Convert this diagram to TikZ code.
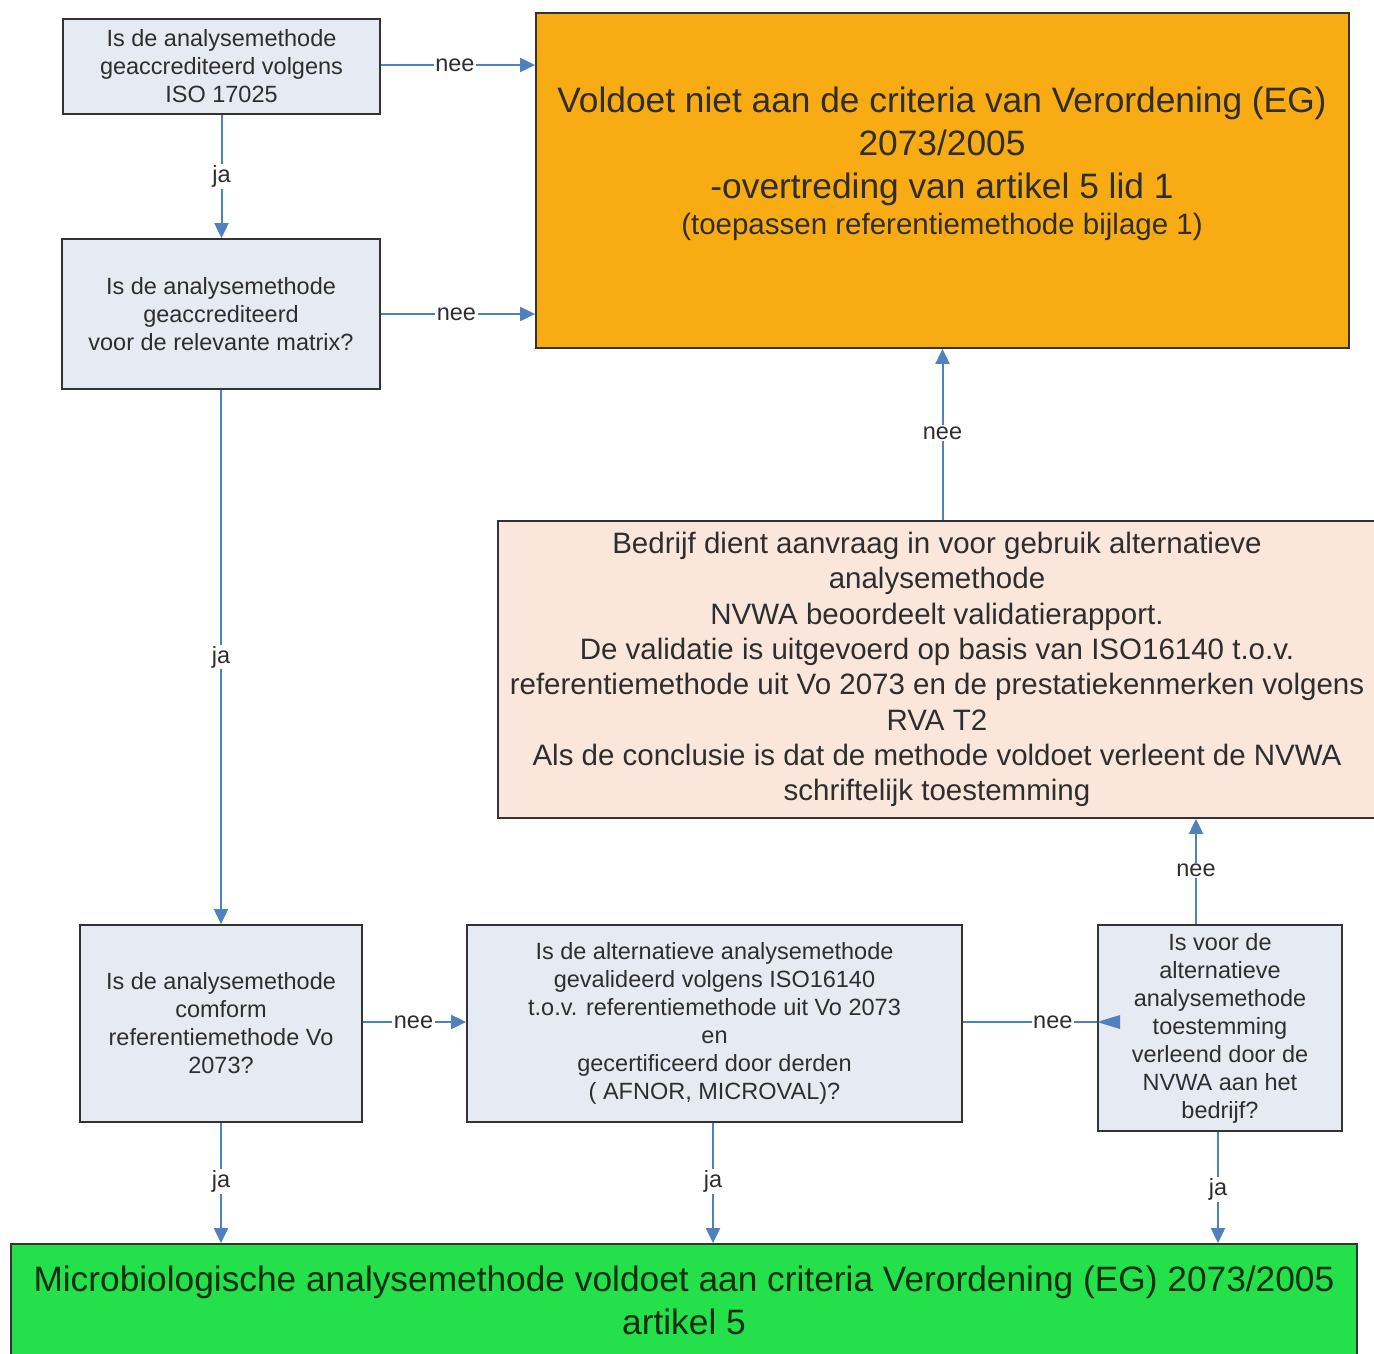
\documentclass[tikz,border=0pt]{standalone}
\usepackage{fontspec}
\setmainfont{Liberation Sans}
\usetikzlibrary{arrows.meta}
\definecolor{qfill}{HTML}{E5EAF3}
\definecolor{boxline}{HTML}{333333}
\definecolor{orangefill}{HTML}{F9AB14}
\definecolor{peachfill}{HTML}{FBE6DC}
\definecolor{greenfill}{HTML}{24E04A}
\definecolor{arrowblue}{HTML}{4F81BD}
\definecolor{txt}{HTML}{2E2E2E}
\definecolor{greentxt}{HTML}{0E2E12}
\tikzset{
  qbox/.style={draw=boxline, line width=1.8pt, fill=qfill, inner sep=0pt, align=center,
    text=txt, font=\fontsize{23.5}{28}\selectfont},
  bigbox/.style={draw=boxline, line width=1.8pt, inner sep=0pt, align=center},
  conn/.style={draw=arrowblue, line width=2pt, -{Triangle[length=15pt,width=14pt]}},
  plainconn/.style={draw=arrowblue, line width=2pt},
  lbl/.style={fill=white, inner sep=1.5pt, text=txt, font=\fontsize{23.5}{28}\selectfont}
}
\begin{document}
\begin{tikzpicture}[x=1pt,y=-1pt]
\useasboundingbox (0,0) rectangle (1374,1353);
\fill[white] (0,0) rectangle (1374,1353);

% boxes
\node[qbox, minimum width=317pt, minimum height=95pt] (A) at (221.5,66.5)
  {Is de analysemethode\\geaccrediteerd volgens\\ISO 17025};
\node[qbox, minimum width=318pt, minimum height=150pt] (B) at (221,314)
  {Is de analysemethode\\geaccrediteerd\\voor de relevante matrix?};
\node[bigbox, fill=orangefill, minimum width=813pt, minimum height=335pt] (O) at (942.5,180.5) {};
\node[align=center, text=txt, inner sep=0pt, font=\fontsize{35.3}{43}\selectfont] (Ot) at (942,146)
  {Voldoet niet aan de criteria van Verordening (EG)\\2073/2005\\-overtreding van artikel 5 lid 1};
\node[align=center, text=txt, inner sep=0pt, font=\fontsize{29.5}{35}\selectfont] (Os) at (942,227)
  {(toepassen referentiemethode bijlage 1)};
\node[bigbox, fill=peachfill, minimum width=878pt, minimum height=297pt, text=txt,
  font=\fontsize{29.5}{35.3}\selectfont] (P) at (937,669.5)
  {Bedrijf dient aanvraag in voor gebruik alternatieve\\analysemethode\\NVWA beoordeelt validatierapport.\\De validatie is uitgevoerd op basis van ISO16140 t.o.v.\\referentiemethode uit Vo 2073 en de prestatiekenmerken volgens\\RVA T2\\Als de conclusie is dat de methode voldoet verleent de NVWA\\schriftelijk toestemming};
\node[qbox, minimum width=282pt, minimum height=197pt] (C) at (221,1023.5)
  {Is de analysemethode\\comform\\referentiemethode Vo\\2073?};
\node[qbox, minimum width=495pt, minimum height=197pt] (D) at (714.5,1023.5)
  {Is de alternatieve analysemethode\\gevalideerd volgens ISO16140\\t.o.v. referentiemethode uit Vo 2073\\en\\gecertificeerd door derden\\( AFNOR, MICROVAL)?};
\node[qbox, minimum width=244pt, minimum height=206pt] (E) at (1220,1028)
  {Is voor de\\alternatieve\\analysemethode\\toestemming\\verleend door de\\NVWA aan het\\bedrijf?};
\node[bigbox, fill=greenfill, minimum width=1346pt, minimum height=112pt, text=greentxt,
  font=\fontsize{35.3}{43}\selectfont] (G) at (684,1300)
  {Microbiologische analysemethode voldoet aan criteria Verordening (EG) 2073/2005\\artikel 5};

% connectors
\draw[conn] ([yshift=1.5]A.east) -- ([yshift=1.5]A.east -| O.west) node[lbl, pos=0.48] (l1) {nee};
\draw[conn] (A.south) -- (A.south |- B.north) node[lbl, pos=0.5] (l2) {ja};
\draw[conn] (B.east) -- (B.east -| O.west) node[lbl, pos=0.49] (l3) {nee};
\draw[conn] (B.south) -- (B.south |- C.north) node[lbl, pos=0.5] (l4) {ja};
\draw[conn] (O.south |- P.north) -- (O.south) node[lbl, pos=0.51] (l5) {nee};
\draw[conn] ([yshift=1.5]C.east) -- ([yshift=1.5]C.east -| D.west) node[lbl, pos=0.49] (l6) {nee};
\draw[plainconn] ([yshift=1.5]D.east) -- ([yshift=1.5]D.east -| E.west) node[lbl, pos=0.67] (l7) {nee};
\coordinate (Ein) at ([yshift=1.5]D.east -| E.west);
\fill[arrowblue] (Ein) -- ++(23,-7) -- ++(0,14) -- cycle;
\draw[conn] ([xshift=-24]E.north) -- ([xshift=-24]E.north |- P.south) node[lbl, pos=0.51] (l8) {nee};
\draw[conn] (C.south) -- (C.south |- G.north) node[lbl, pos=0.49] (l9) {ja};
\draw[conn] ([xshift=-1.5]D.south) -- ([xshift=-1.5]D.south |- G.north) node[lbl, pos=0.49] (l10) {ja};
\draw[conn] ([xshift=-2]E.south) -- ([xshift=-2]E.south |- G.north) node[lbl, pos=0.52] (l11) {ja};
\end{tikzpicture}
\end{document}
